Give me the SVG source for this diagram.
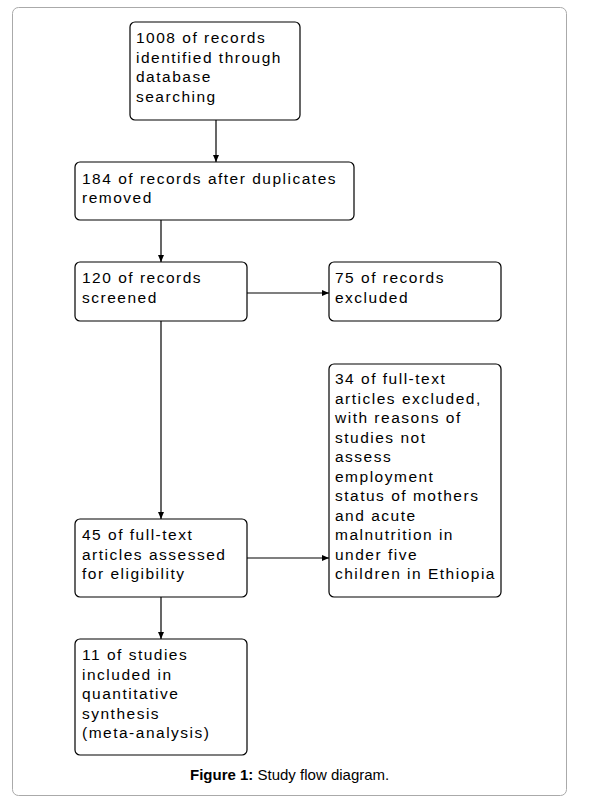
<svg xmlns="http://www.w3.org/2000/svg" width="590" height="811" viewBox="0 0 590 811">
<defs>
<style>
.box{fill:#fff;stroke:#000;stroke-width:1.2}
.t{font-family:"Liberation Sans",Arial,sans-serif;font-size:15.5px;letter-spacing:1.5px;fill:#000}
.c{stroke:#000;stroke-width:1.2;fill:none;marker-end:url(#ah)}
.cap{font-family:"Liberation Sans",Arial,sans-serif;font-size:15px;fill:#000}
</style>
<marker id="ah" markerWidth="8" markerHeight="8" refX="7" refY="4" orient="auto" markerUnits="userSpaceOnUse">
<path d="M0,1 L7,4 L0,7 Z" fill="#000"/>
</marker>
</defs>
<rect x="12.5" y="7.5" width="554" height="788" rx="6" fill="#fff" stroke="#aaa" stroke-width="1"/>
<g id="connectors">
<line class="c" x1="216" y1="120" x2="216" y2="162"/>
<line class="c" x1="161" y1="220" x2="161" y2="262"/>
<line class="c" x1="161" y1="321" x2="161" y2="519"/>
<line class="c" x1="247" y1="293" x2="329" y2="293"/>
<line class="c" x1="247" y1="558" x2="329" y2="558"/>
<line class="c" x1="161" y1="597" x2="161" y2="639"/>
</g>
<g id="n1">
<rect class="box" x="130" y="22" width="170" height="98" rx="5"/>
<text class="t"><tspan x="136" y="43">1008 of records</tspan><tspan x="136" y="62.5">identified through</tspan><tspan x="136" y="82">database</tspan><tspan x="136" y="101.5">searching</tspan></text>
</g>
<g id="n2">
<rect class="box" x="75" y="162" width="279" height="58" rx="5"/>
<text class="t"><tspan x="82" y="184">184 of records after duplicates</tspan><tspan x="82" y="203">removed</tspan></text>
</g>
<g id="n3">
<rect class="box" x="75" y="262" width="172" height="59" rx="5"/>
<text class="t"><tspan x="82" y="283">120 of records</tspan><tspan x="82" y="302.5">screened</tspan></text>
</g>
<g id="n4">
<rect class="box" x="329" y="262" width="172" height="59" rx="5"/>
<text class="t"><tspan x="335" y="283">75 of records</tspan><tspan x="335" y="302.5">excluded</tspan></text>
</g>
<g id="n5">
<rect class="box" x="329" y="364" width="172" height="233" rx="5"/>
<text class="t"><tspan x="335" y="384">34 of full-text</tspan><tspan x="335" y="403.5">articles excluded,</tspan><tspan x="335" y="423">with reasons of</tspan><tspan x="335" y="442.5">studies not</tspan><tspan x="335" y="462">assess</tspan><tspan x="335" y="481.5">employment</tspan><tspan x="335" y="501">status of mothers</tspan><tspan x="335" y="520.5">and acute</tspan><tspan x="335" y="540">malnutrition in</tspan><tspan x="335" y="559.5">under five</tspan><tspan x="335" y="579">children in Ethiopia</tspan></text>
</g>
<g id="n6">
<rect class="box" x="75" y="519" width="172" height="78" rx="5"/>
<text class="t"><tspan x="82" y="540">45 of full-text</tspan><tspan x="82" y="559.5">articles assessed</tspan><tspan x="82" y="579">for eligibility</tspan></text>
</g>
<g id="n7">
<rect class="box" x="75" y="639" width="172" height="116" rx="5"/>
<text class="t"><tspan x="82" y="660">11 of studies</tspan><tspan x="82" y="679.5">included in</tspan><tspan x="82" y="699">quantitative</tspan><tspan x="82" y="718.5">synthesis</tspan><tspan x="82" y="738">(meta-analysis)</tspan></text>
</g>
<text class="cap" x="190" y="780"><tspan font-weight="bold">Figure 1:</tspan> Study flow diagram.</text>
</svg>
